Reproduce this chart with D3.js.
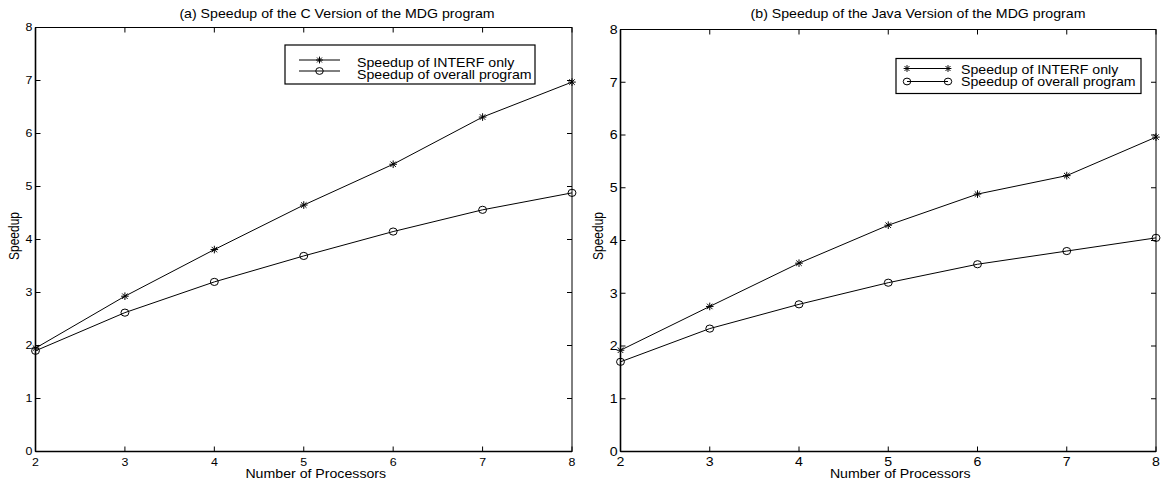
<!DOCTYPE html>
<html>
<head>
<meta charset="utf-8">
<script src="https://cdn.jsdelivr.net/npm/d3@7"></script>
<style>
  html, body { margin: 0; padding: 0; background: #fff; }
  svg { display: block; }
  text { font-family: "Liberation Sans", Arial, Helvetica, sans-serif; fill: #000; }
</style>
</head>
<body>
<svg id="chart" width="1163" height="484"></svg>
<script>
// Number of processors on the x axis
const processors = [2, 3, 4, 5, 6, 7, 8];

// (a) C version
const cInterf  = [1.95, 2.93, 3.81, 4.65, 5.42, 6.31, 6.97];
const cOverall = [1.90, 2.62, 3.20, 3.69, 4.15, 4.56, 4.88];

// (b) Java version
const javaInterf  = [1.92, 2.75, 3.57, 4.29, 4.88, 5.23, 5.96];
const javaOverall = [1.70, 2.33, 2.79, 3.20, 3.55, 3.80, 4.05];

const yTicks = [0, 1, 2, 3, 4, 5, 6, 7, 8];
const xTicks = [2, 3, 4, 5, 6, 7, 8];

const titles = [
  "(a) Speedup of the C Version of the MDG program",
  "(b) Speedup of the Java Version of the MDG program"
];
const seriesNames = ["Speedup of INTERF only", "Speedup of overall program"];
const xLabel = "Number of Processors";
const yLabel = "Speedup";

// horizontal stretch applied to all text
const SX = 1.18;

const svg = d3.select("#chart");

function label(parent, x, y, str, size, anchor, rotate) {
  const t = parent.append("text")
    .attr("transform", `translate(${x},${y})` + (rotate ? ` rotate(${rotate})` : "") + ` scale(${rotate ? 1 : SX},${rotate ? SX : 1})`)
    .attr("font-size", size)
    .attr("text-anchor", anchor || "start")
    .text(str);
  return t;
}

function star(g, x, y, r) {
  const d = r * 0.72;
  g.append("path")
    .attr("d", `M${x - r},${y}H${x + r}M${x},${y - r}V${y + r}M${x - d},${y - d}L${x + d},${y + d}M${x - d},${y + d}L${x + d},${y - d}`)
    .attr("stroke", "#000").attr("stroke-width", 1).attr("fill", "none");
}
function circle(g, x, y, r) {
  g.append("ellipse").attr("cx", x).attr("cy", y).attr("rx", r * 1.1).attr("ry", r)
    .attr("stroke", "#000").attr("stroke-width", 1).attr("fill", "none");
}

const panels = [
  {
    left: 35.5, right: 572, top: 27.5, bottom: 451.5,
    title: titles[0], titleX: 337, tickSize: 10.5,
    interf: cInterf, overall: cOverall,
    legend: { x0: 285, y0: 45, x1: 535, y1: 84, lineX0: 299, lineX1: 340, rows: [60, 71], textX: 357, textY: [66.5, 78.5], textSize: 12, ends: false },
    yLabelX: 19
  },
  {
    left: 620.5, right: 1156, top: 29.5, bottom: 451.5,
    title: titles[1], titleX: 918, tickSize: 12,
    interf: javaInterf, overall: javaOverall,
    legend: { x0: 896, y0: 58.5, x1: 1141, y1: 93.5, lineX0: 907, lineX1: 948, rows: [68.5, 81.5], textX: 961, textY: [74, 86], textSize: 12, ends: true },
    yLabelX: 603
  }
];

panels.forEach(p => {
  const x = d3.scaleLinear().domain([2, 8]).range([p.left, p.right]);
  const y = d3.scaleLinear().domain([0, 8]).range([p.bottom, p.top]);
  const g = svg.append("g");

  // frame
  g.append("rect")
    .attr("x", p.left).attr("y", p.top)
    .attr("width", p.right - p.left).attr("height", p.bottom - p.top)
    .attr("fill", "none").attr("stroke", "#000").attr("stroke-width", 1);
  // heavier bottom and left axis lines
  g.append("line").attr("x1", p.left).attr("x2", p.right).attr("y1", p.bottom).attr("y2", p.bottom)
    .attr("stroke", "#000").attr("stroke-width", 1.6);
  g.append("line").attr("x1", p.left).attr("x2", p.left).attr("y1", p.top).attr("y2", p.bottom)
    .attr("stroke", "#000").attr("stroke-width", 1.6);

  // inward ticks on all four sides
  const tl = 5;
  xTicks.forEach(v => {
    g.append("line").attr("x1", x(v)).attr("x2", x(v)).attr("y1", p.bottom).attr("y2", p.bottom - tl).attr("stroke", "#000");
    g.append("line").attr("x1", x(v)).attr("x2", x(v)).attr("y1", p.top).attr("y2", p.top + tl).attr("stroke", "#000");
    label(g, x(v), p.bottom + 14, String(v), p.tickSize, "middle");
  });
  yTicks.forEach(v => {
    g.append("line").attr("x1", p.left).attr("x2", p.left + tl).attr("y1", y(v)).attr("y2", y(v)).attr("stroke", "#000");
    g.append("line").attr("x1", p.right).attr("x2", p.right - tl).attr("y1", y(v)).attr("y2", y(v)).attr("stroke", "#000");
    label(g, p.left - 3, y(v) + p.tickSize * 0.36, String(v), p.tickSize, "end");
  });

  // titles and axis labels
  label(g, p.titleX, 18, p.title, 12, "middle");
  label(g, (p.left + p.right) / 2 + 12, 478, xLabel, 12, "middle");
  label(g, p.yLabelX, 236, yLabel, 12, "middle", -90);

  // series
  const line = d3.line().x((d, i) => x(processors[i])).y(d => y(d));
  [p.interf, p.overall].forEach((vals, si) => {
    g.append("path").attr("d", line(vals)).attr("fill", "none").attr("stroke", "#000").attr("stroke-width", 1);
    vals.forEach((v, i) => {
      if (si === 0) star(g, x(processors[i]), y(v), 3.8);
      else circle(g, x(processors[i]), y(v), 3.6);
    });
  });

  // legend
  const L = p.legend;
  const lg = g.append("g");
  lg.append("rect").attr("x", L.x0).attr("y", L.y0).attr("width", L.x1 - L.x0).attr("height", L.y1 - L.y0)
    .attr("fill", "#fff").attr("stroke", "#000").attr("stroke-width", 1.2);
  seriesNames.forEach((name, si) => {
    const ry = L.rows[si];
    lg.append("line").attr("x1", L.lineX0).attr("x2", L.lineX1).attr("y1", ry).attr("y2", ry).attr("stroke", "#000");
    const xs = L.ends ? [L.lineX0, L.lineX1] : [(L.lineX0 + L.lineX1) / 2];
    xs.forEach(mx => si === 0 ? star(lg, mx, ry, 3.4) : circle(lg, mx, ry, 3.4));
    label(lg, L.textX, L.textY[si], name, L.textSize, "start");
  });
});
</script>
</body>
</html>
